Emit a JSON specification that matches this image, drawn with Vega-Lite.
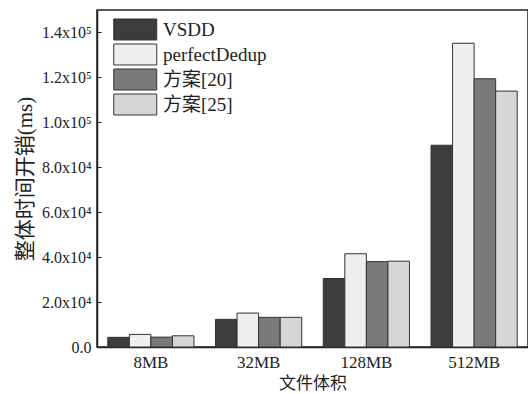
{
  "$schema": "https://vega.github.io/schema/vega-lite/v6.json",
  "width": 431,
  "height": 337,
  "autosize": {"type": "none"},
  "padding": {"left": 97, "top": 10, "right": 0, "bottom": 47},
  "background": "white",
  "config": {
    "view": {"stroke": "#222", "strokeWidth": 1.5},
    "font": "Liberation Serif, Noto Sans CJK SC"
  },
  "data": {
    "values": [
      {"size": "8MB", "method": "VSDD", "time": 4300},
      {"size": "8MB", "method": "perfectDedup", "time": 5600},
      {"size": "8MB", "method": "方案[20]", "time": 4400},
      {"size": "8MB", "method": "方案[25]", "time": 5000},
      {"size": "32MB", "method": "VSDD", "time": 12300},
      {"size": "32MB", "method": "perfectDedup", "time": 15100},
      {"size": "32MB", "method": "方案[20]", "time": 13200},
      {"size": "32MB", "method": "方案[25]", "time": 13200},
      {"size": "128MB", "method": "VSDD", "time": 30500},
      {"size": "128MB", "method": "perfectDedup", "time": 41500},
      {"size": "128MB", "method": "方案[20]", "time": 38000},
      {"size": "128MB", "method": "方案[25]", "time": 38200},
      {"size": "512MB", "method": "VSDD", "time": 89800},
      {"size": "512MB", "method": "perfectDedup", "time": 135200},
      {"size": "512MB", "method": "方案[20]", "time": 119400},
      {"size": "512MB", "method": "方案[25]", "time": 113900}
    ]
  },
  "mark": {"type": "bar", "stroke": "#333", "strokeWidth": 1},
  "encoding": {
    "x": {
      "field": "size",
      "type": "nominal",
      "sort": ["8MB", "32MB", "128MB", "512MB"],
      "scale": {"paddingInner": 0.2, "paddingOuter": 0.1},
      "axis": {
        "title": "文件体积",
        "titleFont": "Noto Sans CJK SC",
        "titleFontSize": 17,
        "titleFontWeight": "normal",
        "titleColor": "#222",
        "titlePadding": 5,
        "labelAngle": 0,
        "labelFont": "Liberation Serif",
        "labelFontSize": 17,
        "labelColor": "#222",
        "labelPadding": 7,
        "ticks": false,
        "domainColor": "#222",
        "domainWidth": 1.5
      }
    },
    "xOffset": {
      "field": "method",
      "type": "nominal",
      "sort": ["VSDD", "perfectDedup", "方案[20]", "方案[25]"],
      "scale": {"paddingInner": 0, "paddingOuter": 0}
    },
    "y": {
      "field": "time",
      "type": "quantitative",
      "scale": {"domain": [0, 150000], "nice": false},
      "axis": {
        "title": "整体时间开销(ms)",
        "titleFont": "Liberation Serif, Noto Sans CJK SC",
        "titleFontSize": 21,
        "titleFontWeight": "normal",
        "titleColor": "#222",
        "titlePadding": 6,
        "values": [0, 20000, 40000, 60000, 80000, 100000, 120000, 140000],
        "labelExpr": "datum.value == 0 ? '0.0' : datum.value < 100000 ? format(datum.value / 10000, '.1f') + 'x10⁴' : format(datum.value / 100000, '.1f') + 'x10⁵'",
        "labelFont": "Liberation Serif",
        "labelFontSize": 16,
        "labelColor": "#222",
        "labelPadding": 10,
        "tickSize": -4,
        "tickColor": "#222",
        "grid": false,
        "domainColor": "#222",
        "domainWidth": 1.5
      }
    },
    "fill": {
      "field": "method",
      "type": "nominal",
      "sort": ["VSDD", "perfectDedup", "方案[20]", "方案[25]"],
      "scale": {
        "domain": ["VSDD", "perfectDedup", "方案[20]", "方案[25]"],
        "range": ["#3c3c3c", "#efefef", "#7a7a7a", "#d6d6d6"]
      },
      "legend": {
        "title": null,
        "orient": "none",
        "legendX": 16,
        "legendY": 8,
        "padding": 0,
        "symbolType": "M-1,-0.976H3V0.976H-1Z",
        "symbolSize": 462,
        "symbolStrokeColor": "#333",
        "symbolStrokeWidth": 1,
        "symbolOpacity": 1,
        "rowPadding": 0,
        "labelOffset": 27,
        "labelFont": "Liberation Serif, Noto Sans CJK SC",
        "labelFontSize": 19,
        "labelColor": "#222"
      }
    }
  }
}
